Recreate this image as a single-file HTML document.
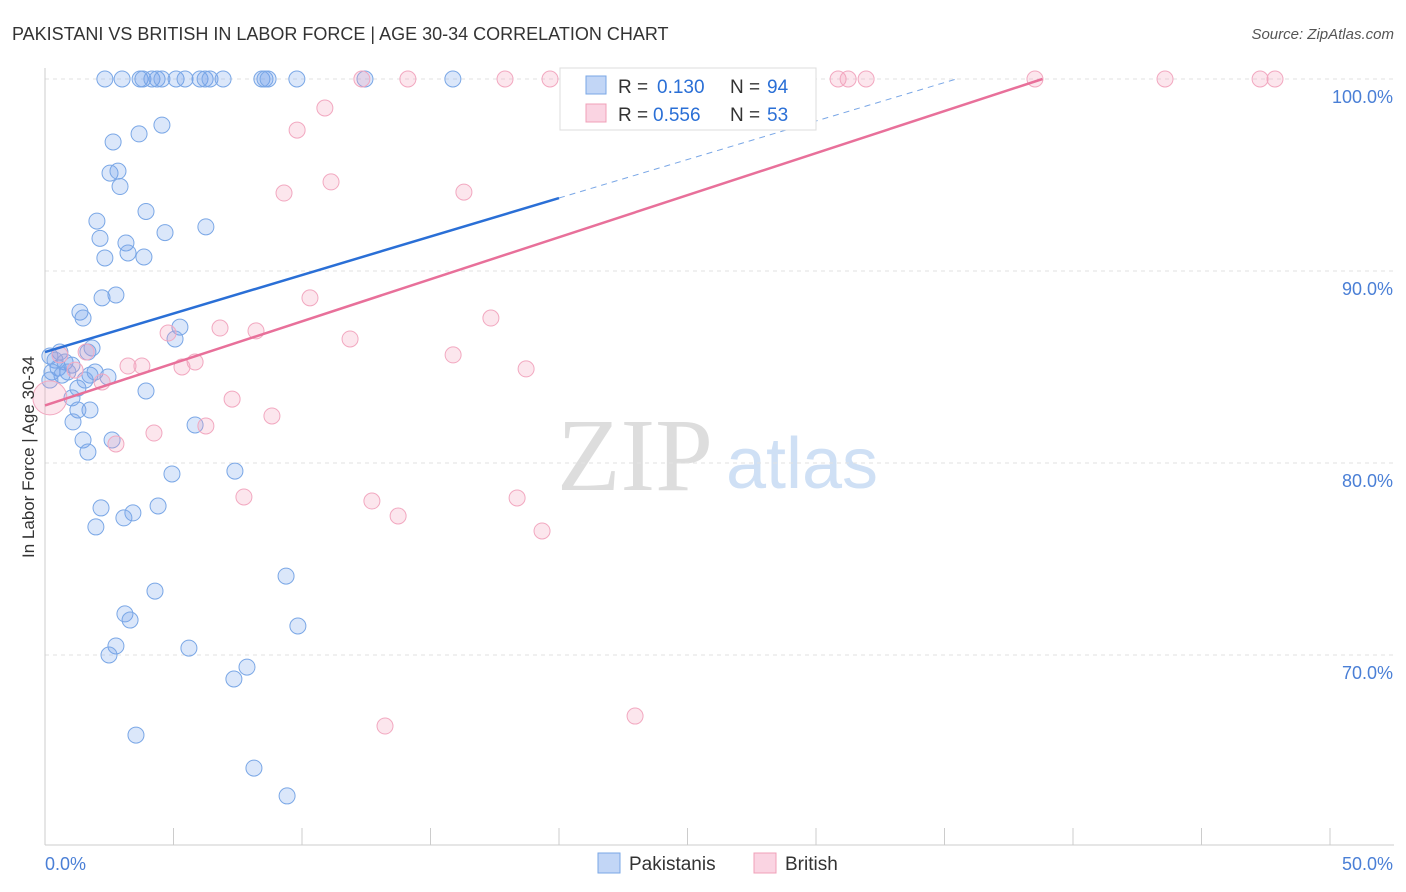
<!DOCTYPE html>
<html><head><meta charset="utf-8">
<style>
body{margin:0;background:#fff;font-family:"Liberation Sans",sans-serif;}
svg{display:block}
</style></head>
<body>
<svg id="chart" width="1406" height="892" xmlns="http://www.w3.org/2000/svg">
<text x="12" y="40" font-size="18" fill="#333">PAKISTANI VS BRITISH IN LABOR FORCE | AGE 30-34 CORRELATION CHART</text>
<text x="1394" y="39" font-size="15" fill="#555" font-style="italic" text-anchor="end">Source: ZipAtlas.com</text>
<g>
<text x="635" y="490" font-size="104" font-family="Liberation Serif,serif" fill="#ddd" text-anchor="middle">ZIP</text>
<text x="802" y="488" font-size="72" fill="#cfe0f5" text-anchor="middle">atlas</text>
</g>
<g id="grid"></g>
<g id="axes"></g>
<g id="marks"></g>
<g id="lines"></g>
<text transform="translate(34,457) rotate(-90)" font-size="17" fill="#333" text-anchor="middle">In Labor Force | Age 30-34</text>
<g>
<rect x="560" y="68" width="256" height="62" fill="#fff" stroke="#ddd"/>
<rect x="586" y="76" width="20" height="18" fill="rgba(120,165,235,0.45)" stroke="#7aa7e6"/>
<rect x="586" y="104" width="20" height="18" fill="rgba(245,160,190,0.45)" stroke="#f0a0b8"/>
<text x="618" y="93" font-size="19" fill="#333">R =</text>
<text x="657" y="93" font-size="19" fill="#2a6fd6">0.130</text>
<text x="730" y="93" font-size="19" fill="#333">N =</text>
<text x="767" y="93" font-size="19" fill="#2a6fd6">94</text>
<text x="618" y="121" font-size="19" fill="#333">R =</text>
<text x="653" y="121" font-size="19" fill="#2a6fd6">0.556</text>
<text x="730" y="121" font-size="19" fill="#333">N =</text>
<text x="767" y="121" font-size="19" fill="#2a6fd6">53</text>
</g>
<g>
<rect x="598" y="853" width="22" height="20" fill="rgba(120,165,235,0.45)" stroke="#7aa7e6"/>
<text x="629" y="870" font-size="19" fill="#333">Pakistanis</text>
<rect x="754" y="853" width="22" height="20" fill="rgba(245,160,190,0.45)" stroke="#f0a0b8"/>
<text x="785" y="870" font-size="19" fill="#333">British</text>
</g>
</svg>
<script>
const xTicks=[0,5,10,15,20,25,30,35,40,45,50];
const yTicks=[70,80,90,100];
const yTickLabels=["70.0%","80.0%","90.0%","100.0%"];
const pakX=[2.33,3.0,3.7,3.81,4.16,4.36,4.55,5.1,5.45,6.03,6.23,6.42,6.93,8.44,8.56,8.68,9.8,12.45,15.87,4.55,3.66,2.65,2.53,2.84,2.92,3.93,2.02,4.67,6.26,2.14,3.15,3.23,2.33,3.85,2.76,2.22,1.36,1.48,5.25,5.06,1.83,1.67,0.58,0.19,0.39,0.78,1.05,0.51,0.27,0.89,0.66,1.75,1.95,2.45,0.19,1.56,1.28,3.93,1.05,1.75,1.28,1.09,5.84,1.48,2.61,1.67,4.94,7.39,2.18,4.4,3.42,3.07,1.98,9.38,4.28,3.11,3.31,9.84,2.76,2.49,5.6,7.86,7.35,3.54,8.13,9.42];
const pakY=[100,100,100,100,100,100,100,100,100,100,100,100,100,100,100,100,100,100,100,97.6,97.14,96.72,95.1,95.2,94.4,93.1,92.6,92.0,92.3,91.7,91.46,90.94,90.68,90.73,88.75,88.6,87.86,87.55,87.08,86.46,85.99,85.78,85.78,85.57,85.36,85.26,85.1,84.95,84.74,84.74,84.58,84.58,84.74,84.48,84.32,84.32,83.9,83.75,83.39,82.76,82.76,82.14,81.98,81.2,81.2,80.57,79.43,79.58,77.66,77.76,77.4,77.14,76.67,74.11,73.33,72.14,71.82,71.51,70.47,70.0,70.36,69.37,68.75,65.83,64.11,62.66];
const briX=[12.33,14.12,17.9,19.65,20.82,23.93,25.1,28.02,30.86,31.25,31.95,38.52,43.58,47.28,47.86,10.89,9.81,11.13,9.3,16.3,10.31,17.35,6.81,8.21,11.87,4.79,1.6,15.88,5.84,5.33,3.23,3.77,18.72,2.22,7.28,8.83,4.24,6.26,2.76,7.74,12.72,18.37,13.74,19.34,13.23,22.96,0.19,1.17,0.58];
const briY=[100,100,100,100,100,100,100,100,100,100,100,100,100,100,100,98.49,97.34,94.64,94.06,94.11,88.6,87.55,87.03,86.88,86.46,86.77,85.78,85.63,85.26,85.0,85.05,85.05,84.9,84.22,83.33,82.45,81.56,81.93,80.99,78.23,78.02,78.18,77.24,76.46,66.3,66.82,83.39,84.84,85.63];
const pakTrend=[85.78,0.401];
const briTrend=[83.0,0.438];

const NS="http://www.w3.org/2000/svg";
const xs=v=>45+v*25.7;
const ys=v=>79+(100-v)*19.2;
function mk(tag,attrs,parent){const e=document.createElementNS(NS,tag);for(const k in attrs)e.setAttribute(k,attrs[k]);parent.appendChild(e);return e;}
const grid=document.getElementById('grid'),axes=document.getElementById('axes'),marks=document.getElementById('marks'),lines=document.getElementById('lines');
yTicks.forEach((t,i)=>{
 const g=mk('line',{x1:45,x2:1394,y1:ys(t),y2:ys(t),stroke:'#e2e2e2','stroke-dasharray':'4,4'},grid);
 
 
 const tx=mk('text',{x:1393,y:ys(t)+24,'font-size':18,fill:'#4a7fd6','text-anchor':'end'},axes);
 tx.textContent=yTickLabels[i];
 
 
});
const xl=mk('line',{x1:45,x2:1394,y1:845,y2:845,stroke:'#ccc'},axes);


const yl=mk('line',{x1:45,x2:45,y1:68,y2:845,stroke:'#ccc'},axes);


xTicks.forEach(t=>{
 const l=mk('line',{x1:xs(t),x2:xs(t),y1:828,y2:845,stroke:'#ccc'},axes);
 
 
});
const xt0=mk('text',{x:45,y:870,'font-size':18,fill:'#4a7fd6'},axes);xt0.textContent=xTicks[0].toFixed(1)+'%';


const xt1=mk('text',{x:1393,y:870,'font-size':18,fill:'#4a7fd6','text-anchor':'end'},axes);xt1.textContent=xTicks[xTicks.length-1].toFixed(1)+'%';


pakX.forEach((x,i)=>{
 const c=mk('circle',{cx:xs(x),cy:ys(pakY[i]),r:8,fill:'rgba(110,160,235,0.25)',stroke:'#7aa7e6','stroke-width':1},marks);
 
 
});
briX.forEach((x,i)=>{
 const big=i===46;
 const c=mk('circle',{cx:xs(x),cy:ys(briY[i]),r:big?17:8,fill:'rgba(245,155,185,0.25)',stroke:'#f2a8c0','stroke-width':1},marks);
 
 
});
const pEndSolid=20, pEnd=(100-pakTrend[0])/pakTrend[1];
const p1=mk('line',{x1:xs(0),y1:ys(pakTrend[0]),x2:xs(pEndSolid),y2:ys(pakTrend[0]+pakTrend[1]*pEndSolid),stroke:'#2a6fd6','stroke-width':2.5},lines);


const p2=mk('line',{x1:xs(pEndSolid),y1:ys(pakTrend[0]+pakTrend[1]*pEndSolid),x2:xs(pEnd),y2:ys(100),stroke:'#7aa7e6','stroke-width':1,'stroke-dasharray':'6,5'},lines);


const bEnd=(100-briTrend[0])/briTrend[1];
const b1=mk('line',{x1:xs(0),y1:ys(briTrend[0]),x2:xs(bEnd),y2:ys(100),stroke:'#e8709a','stroke-width':2.5},lines);


</script>
</body></html>
